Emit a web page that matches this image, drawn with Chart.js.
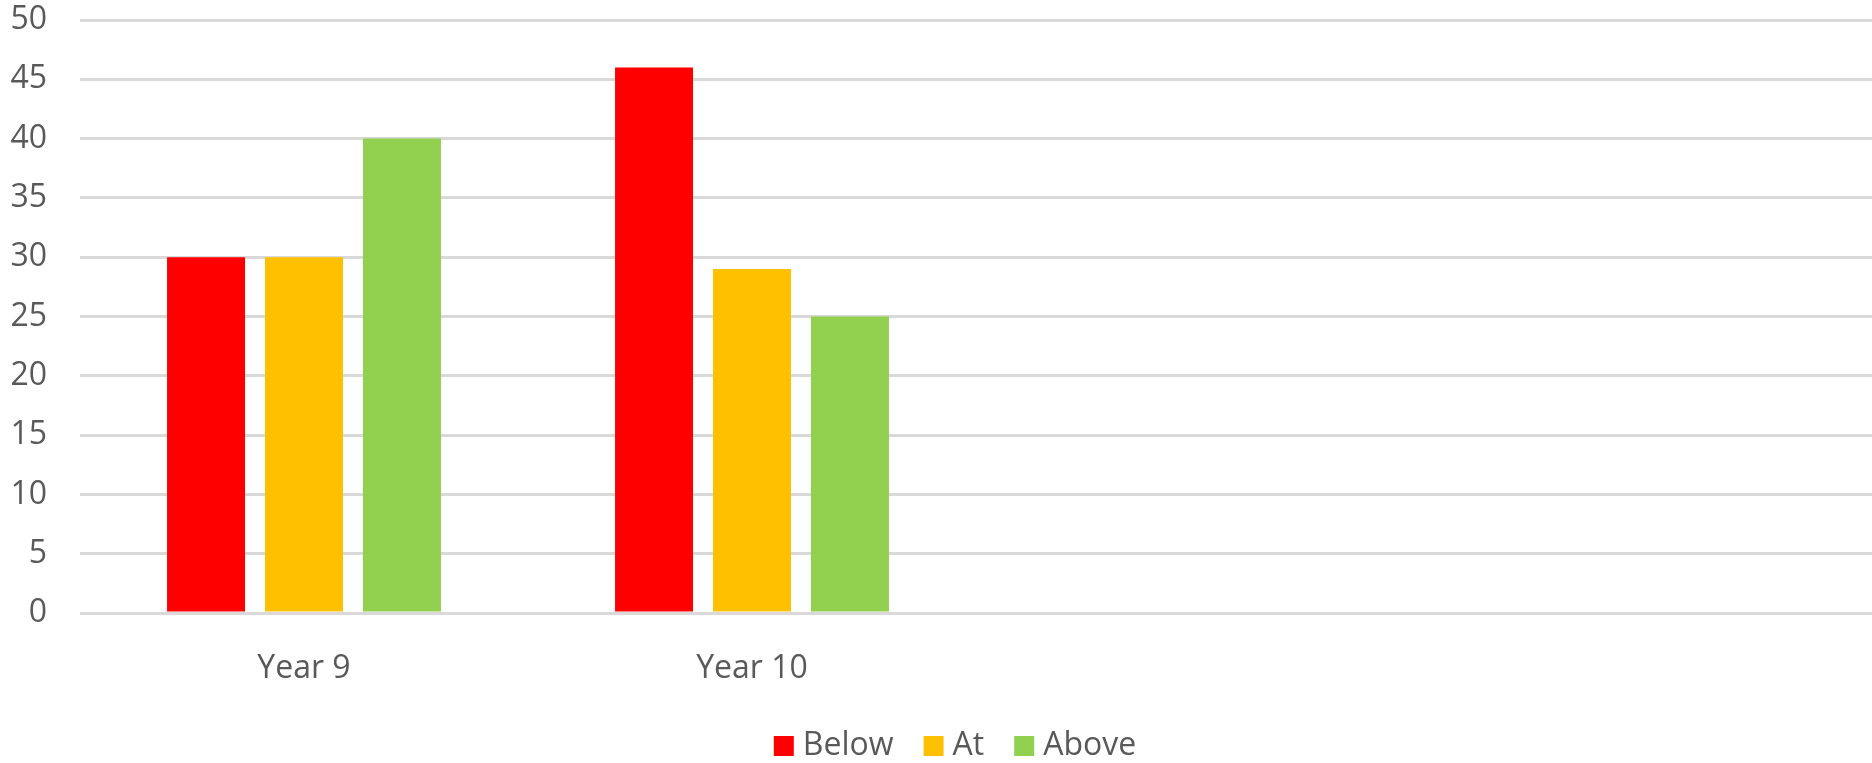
<!DOCTYPE html>
<html>
<head>
<meta charset="utf-8">
<script src="https://cdn.jsdelivr.net/npm/chart.js@4"></script>
<style>
  html, body { margin: 0; padding: 0; background: #ffffff; }
  #wrap { width: 1872px; height: 763px; position: relative; }
</style>
</head>
<body>
<div id="wrap"><canvas id="chart" width="1872" height="763"></canvas></div>
<script>
// Attainment by year group
const categories = ['Year 9', 'Year 10', '', ''];
const below = [30, 46, null, null];
const at = [30, 29, null, null];
const above = [40, 25, null, null];
const yMin = 0;
const yMax = 50;
const yStep = 5;

const textColor = '#595959';
const fontFamily = '"Open Sans", sans-serif';
const fontSize = 32;

// Legend drawn underneath the plot: square swatch, label, then the next entry
const bottomLegend = {
  id: 'bottomLegend',
  afterDraw(chart) {
    const ctx = chart.ctx;
    const box = 20, textGap = 9, itemGap = 30;
    ctx.save();
    ctx.font = fontSize + 'px ' + fontFamily;
    const items = chart.data.datasets.map(ds => ({
      label: ds.label,
      color: ds.backgroundColor,
      w: ctx.measureText(ds.label).width
    }));
    const total = items.reduce((s, it) => s + box + textGap + it.w, 0) + itemGap * (items.length - 1);
    let x = 955 - total / 2;
    const baseline = 755;
    ctx.textBaseline = 'alphabetic';
    ctx.textAlign = 'left';
    items.forEach(it => {
      ctx.fillStyle = it.color;
      ctx.fillRect(x, baseline - 19, box, box);
      x += box + textGap;
      ctx.fillStyle = textColor;
      ctx.fillText(it.label, x, baseline);
      x += it.w + itemGap;
    });
    ctx.restore();
  }
};

function drawChart() {
  new Chart(document.getElementById('chart'), {
    type: 'bar',
    data: {
      labels: categories,
      datasets: [
        { label: 'Below', data: below, backgroundColor: '#FF0000' },
        { label: 'At', data: at, backgroundColor: '#FFC000' },
        { label: 'Above', data: above, backgroundColor: '#92D050' }
      ]
    },
    plugins: [bottomLegend],
    options: {
      responsive: false,
      animation: false,
      devicePixelRatio: 1,
      categoryPercentage: 0.656,
      barPercentage: 0.796,
      layout: { padding: { top: 20, right: 0, bottom: 62, left: 0 } },
      plugins: {
        tooltip: { enabled: false },
        legend: { display: false }
      },
      scales: {
        x: {
          grid: { display: false },
          border: { display: false },
          ticks: {
            color: textColor,
            font: { family: fontFamily, size: fontSize },
            padding: 29,
            maxRotation: 0
          },
          afterFit: (scale) => { scale.height = 88; }
        },
        y: {
          min: yMin,
          max: yMax,
          grid: { color: '#D9D9D9', lineWidth: 3, drawTicks: false },
          border: { display: false },
          ticks: {
            stepSize: yStep,
            color: textColor,
            font: { family: fontFamily, size: fontSize },
            padding: 33
          },
          afterFit: (scale) => {
            scale.width = 80;
            scale.paddingTop = 0;
            scale.paddingBottom = 0;
          }
        }
      }
    }
  });
}

// Build the chart once the label font is ready so text is measured correctly
if (document.fonts && document.fonts.load) {
  document.fonts.load(fontSize + 'px "Open Sans"').then(drawChart, drawChart);
} else {
  drawChart();
}
</script>
</body>
</html>
